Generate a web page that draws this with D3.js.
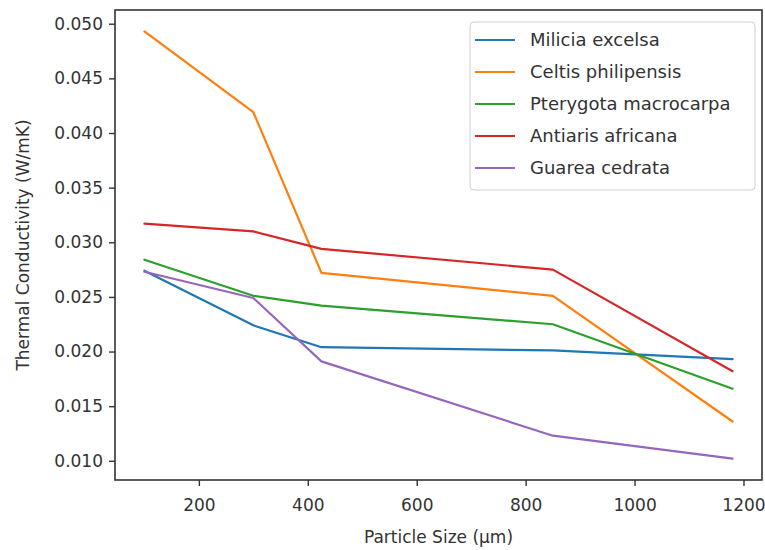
<!DOCTYPE html>
<html>
<head>
<meta charset="utf-8">
<script src="https://cdn.jsdelivr.net/npm/d3@7"></script>
<style>
  body { margin: 0; background: #fff; }
  text { font-family: "DejaVu Sans", sans-serif; fill: #333; }
</style>
</head>
<body>
<script>
// particle sizes (um) and conductivity per species
var sizes = [100, 300, 425, 850, 1180];
var names = ["Milicia excelsa", "Celtis philipensis", "Pterygota macrocarpa", "Antiaris africana", "Guarea cedrata"];
var milicia   = [0.0274, 0.0224, 0.0204, 0.0201, 0.0193];
var celtis    = [0.0493, 0.0419, 0.0272, 0.0251, 0.0136];
var pterygota = [0.0284, 0.0251, 0.0242, 0.0225, 0.0166];
var antiaris  = [0.0317, 0.0310, 0.0294, 0.0275, 0.0182];
var guarea    = [0.0273, 0.0249, 0.0191, 0.0123, 0.0102];
var colors = ["#1f77b4", "#ff7f0e", "#2ca02c", "#d62728", "#9467bd"];
var xTicks = [200, 400, 600, 800, 1000, 1200];
var yTicks = [0.010, 0.015, 0.020, 0.025, 0.030, 0.035, 0.040, 0.045, 0.050];

var series = [milicia, celtis, pterygota, antiaris, guarea];

var width = 765, height = 550;
var mLeft = 115, mRight = 762, mTop = 10, mBottom = 480;

var svg = d3.select("body").append("svg")
	.attr("width", width)
	.attr("height", height);

// matplotlib style 5% margins
var xr = d3.extent(sizes), xm = (xr[1] - xr[0]) * 0.05;
var allY = d3.merge(series);
var yr = d3.extent(allY), ym = (yr[1] - yr[0]) * 0.05;

var x = d3.scaleLinear().domain([xr[0] - xm, xr[1] + xm]).range([mLeft, mRight]);
var y = d3.scaleLinear().domain([yr[0] - ym, yr[1] + ym]).range([mBottom, mTop]);

// lines
var line = d3.line()
	.x(function(d, i){ return x(sizes[i]); })
	.y(function(d){ return y(d); });

for (var i = 0; i < series.length; i++) {
	svg.append("path")
		.datum(series[i])
		.attr("d", line)
		.attr("fill", "none")
		.attr("stroke", colors[i])
		.attr("stroke-width", 2.2)
		.attr("stroke-linejoin", "round")
		.attr("stroke-linecap", "round");
}

// axes
var xAxis = svg.append("g")
	.attr("transform", "translate(0," + mBottom + ")")
	.call(d3.axisBottom(x).tickValues(xTicks).tickSize(6).tickPadding(13).tickFormat(d3.format("d")));
var yAxis = svg.append("g")
	.attr("transform", "translate(" + mLeft + ",0)")
	.call(d3.axisLeft(y).tickValues(yTicks).tickSize(6).tickPadding(6).tickFormat(d3.format(".3f")));

[xAxis, yAxis].forEach(function(a){
	a.select(".domain").remove();
	a.selectAll("line").attr("stroke", "#333").attr("stroke-width", 1.4);
	a.selectAll("text").style("font-size", "17px").attr("fill", "#333");
});

// frame
svg.append("rect")
	.attr("x", mLeft).attr("y", mTop)
	.attr("width", mRight - mLeft).attr("height", mBottom - mTop)
	.attr("fill", "none")
	.attr("stroke", "#333")
	.attr("stroke-width", 1.6);

// axis labels
svg.append("text")
	.attr("x", (mLeft + mRight) / 2).attr("y", 543)
	.attr("text-anchor", "middle")
	.style("font-size", "17px")
	.text("Particle Size (µm)");

svg.append("text")
	.attr("transform", "translate(29," + ((mTop + mBottom) / 2) + ") rotate(-90)")
	.attr("text-anchor", "middle")
	.style("font-size", "17px")
	.text("Thermal Conductivity (W/mK)");

// legend
var lg = svg.append("g");
lg.append("rect")
	.attr("x", 470).attr("y", 22)
	.attr("width", 285).attr("height", 168)
	.attr("rx", 4)
	.attr("fill", "#fff")
	.attr("fill-opacity", 0.8)
	.attr("stroke", "#d0d0d0");

for (var i = 0; i < names.length; i++) {
	var ly = 40 + i * 32;
	lg.append("line")
		.attr("x1", 475).attr("x2", 515)
		.attr("y1", ly).attr("y2", ly)
		.attr("stroke", colors[i])
		.attr("stroke-width", 2.2);
	lg.append("text")
		.attr("x", 530).attr("y", ly)
		.attr("dy", "0.35em")
		.style("font-size", "18px")
		.text(names[i]);
}
</script>
</body>
</html>
